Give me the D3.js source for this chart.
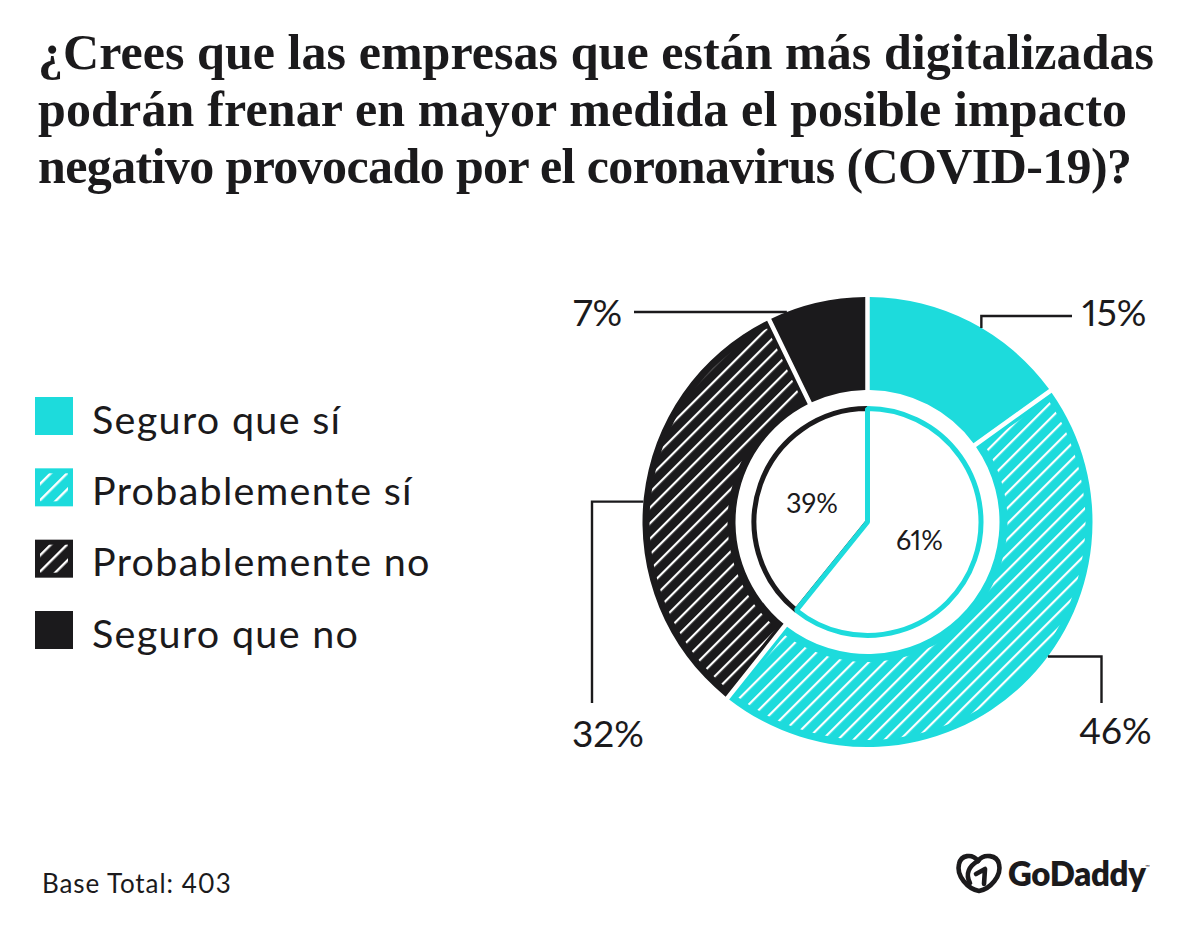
<!DOCTYPE html>
<html lang="es">
<head>
<meta charset="utf-8">
<script src="https://cdn.jsdelivr.net/npm/d3@7"></script>
<style>
  html, body { margin: 0; padding: 0; background: #fff; }
  svg { display: block; }
  text { fill: #1b1a1c; font-family: Lato, sans-serif; font-variant-numeric: proportional-nums; }
  .title { font-family: "Liberation Serif", serif; font-weight: 700; font-size: 50px; }
</style>
</head>
<body>
<div id="chart"></div>
<script>
const titleLines = [
    "¿Crees que las empresas que están más digitalizadas",
    "podrán frenar en mayor medida el posible impacto",
    "negativo provocado por el coronavirus (COVID-19)?"
];
const titleWidths = [1116, 1089, 1094];
const categories = ["Seguro que sí", "Probablemente sí", "Probablemente no", "Seguro que no"];
// slice shares as drawn; the printed labels are rounded
const outerValues = [15.1, 45.6, 32.1, 7.2];
const outerLabels = ["15%", "46%", "32%", "7%"];
const innerValues = [60.8, 39.2];
const innerLabels = ["61%", "39%"];
const baseNote = "Base Total: 403";

const width = 1192, height = 927;
const teal = "#1ddbdc", dark = "#1b1a1c";
const center = [867.5, 522];
const outerR = 225, holeR = 132, pieR = 113.5;

const svg = d3.select("#chart").append("svg")
    .attr("width", width)
    .attr("height", height);

const defs = svg.append("defs");

function addHatch(id, spacing, lineWidth) {
    const p = defs.append("pattern")
        .attr("id", id)
        .attr("patternUnits", "userSpaceOnUse")
        .attr("width", spacing)
        .attr("height", spacing)
        .attr("patternTransform", "rotate(45)");
    p.append("rect")
        .attr("width", lineWidth)
        .attr("height", spacing)
        .attr("fill", "#fff");
}
addHatch("hatch-ring", 11, 2.2);
addHatch("hatch-key", 11.5, 2.4);

// title
svg.selectAll("text.title")
    .data(titleLines)
    .enter().append("text")
    .attr("class", "title")
    .attr("x", 38)
    .attr("y", (d, i) => 69 + i * 56.8)
    .attr("textLength", (d, i) => titleWidths[i])
    .attr("lengthAdjust", "spacing")
    .text(d => d);

// legend
const keyY = d3.scalePoint().domain(categories).range([416, 630]);
const isHatched = d => d.startsWith("Probablemente");
const isTeal = d => d.endsWith("sí");

const legend = svg.selectAll("g.key")
    .data(categories)
    .enter().append("g")
    .attr("class", "key")
    .attr("transform", d => `translate(35,${keyY(d)})`);

legend.append("rect")
    .attr("y", -19)
    .attr("width", 38)
    .attr("height", 38)
    .attr("fill", d => isTeal(d) ? teal : dark);

legend.filter(isHatched).append("rect")
    .attr("x", 5)
    .attr("y", -14)
    .attr("width", 28)
    .attr("height", 28)
    .attr("fill", "url(#hatch-key)");

legend.append("text")
    .attr("x", 57)
    .attr("y", 17.5)
    .attr("font-size", 39.5)
    .attr("letter-spacing", 1.3)
    .text(d => d);

// outer ring
const pie = d3.pie().sort(null);
const ringSlices = pie(outerValues);
const ring = svg.append("g").attr("transform", `translate(${center})`);

const ringArc = d3.arc()
    .innerRadius(holeR)
    .outerRadius(outerR)
    .padAngle(0.02)
    .padRadius(outerR);
const hatchArc = d3.arc()
    .innerRadius(holeR + 8)
    .outerRadius(outerR - 7)
    .padAngle(0.05)
    .padRadius(outerR);

ring.selectAll("path.slice")
    .data(ringSlices)
    .enter().append("path")
    .attr("class", "slice")
    .attr("d", ringArc)
    .attr("fill", (d, i) => isTeal(categories[i]) ? teal : dark);

ring.selectAll("path.hatch")
    .data(ringSlices.filter((d, i) => isHatched(categories[i])))
    .enter().append("path")
    .attr("class", "hatch")
    .attr("d", hatchArc)
    .attr("fill", "url(#hatch-ring)");

// inner pie, teal drawn last so it sits over the dark outline
const innerSlices = pie(innerValues);
const innerArc = d3.arc().innerRadius(0).outerRadius(pieR);

ring.selectAll("path.inner")
    .data(innerSlices.slice().reverse())
    .enter().append("path")
    .attr("class", "inner")
    .attr("d", innerArc)
    .attr("fill", "#fff")
    .attr("stroke", d => d.index === 0 ? teal : dark)
    .attr("stroke-width", 5)
    .attr("stroke-linejoin", "bevel");

ring.selectAll("text.innerLabel")
    .data(innerSlices)
    .enter().append("text")
    .attr("class", "innerLabel")
    .attr("x", (d, i) => [52, -55.5][i])
    .attr("y", (d, i) => [28, -9][i])
    .attr("text-anchor", "middle")
    .attr("font-size", 27)
    .text((d, i) => innerLabels[i]);

// leader lines: start on the ring edge, then elbow out to the label
const leaders = [
    { turn: 30.4, path: (x, y) => [[x, 316], [1072, 316]], tx: 1082, ty: 326 },
    { turn: 126.7, path: (x, y) => [[1101.5, y], [1101.5, 703]], tx: 1079, ty: 744 },
    { turn: 275.2, path: (x, y) => [[592, y], [592, 703]], tx: 572, ty: 747 },
    { turn: 339, path: (x, y) => [[634, y]], tx: 573, ty: 326 }
];
const line = d3.line();

svg.selectAll("path.leader")
    .data(leaders)
    .enter().append("path")
    .attr("class", "leader")
    .attr("fill", "none")
    .attr("stroke", dark)
    .attr("stroke-width", 2.4)
    .attr("d", d => {
        const a = d.turn * Math.PI / 180;
        const x = center[0] + outerR * Math.sin(a);
        const y = center[1] - outerR * Math.cos(a);
        return line([[x, y], ...d.path(x, y)]);
    });

svg.selectAll("text.pct")
    .data(leaders)
    .enter().append("text")
    .attr("class", "pct")
    .attr("x", d => d.tx)
    .attr("y", d => d.ty)
    .attr("font-size", 37)
    .text((d, i) => outerLabels[i]);

// footer
svg.append("text")
    .attr("x", 42)
    .attr("y", 893)
    .attr("font-size", 26)
    .attr("letter-spacing", 0.9)
    .text(baseNote);

// logo
const logo = svg.append("g").attr("transform", "translate(956,854)");
logo.selectAll("path")
    .data([
        "M22 7 C16 -1 5 1 3 10 C0 22 12 35 23 37 C34 35 46 22 43 10 C41 1 28 -1 22 7 Z",
        "M22 7 C13 12 9 20 14 29",
        "M20 20 L29 15 L28 30"
    ])
    .enter().append("path")
    .attr("d", d => d)
    .attr("fill", "none")
    .attr("stroke", dark)
    .attr("stroke-width", 4.6)
    .attr("stroke-linecap", "round")
    .attr("stroke-linejoin", "round");

svg.append("text")
    .attr("x", 1008)
    .attr("y", 886)
    .attr("font-family", "Inter, sans-serif")
    .attr("font-weight", 800)
    .attr("font-size", 33)
    .attr("letter-spacing", -0.3)
    .text("GoDaddy");

svg.append("text")
    .attr("x", 1145)
    .attr("y", 869)
    .attr("font-size", 6)
    .text("™");
</script>
</body>
</html>
